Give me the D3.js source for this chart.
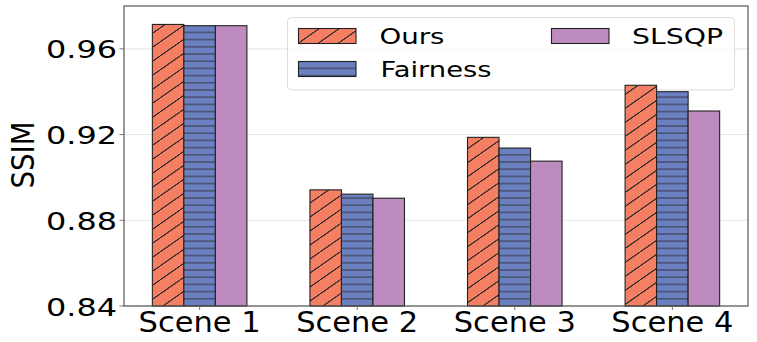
<!DOCTYPE html>
<html>
<head>
<meta charset="utf-8">
<script src="https://cdn.jsdelivr.net/npm/d3@7"></script>
<style>
    body { margin: 0; background: #fff; }
    text { font-family: "DejaVu Sans", sans-serif; fill: #000; }
</style>
</head>
<body>
<svg id="vis1"></svg>
<script>
// chart data
const scenes = ["Scene 1", "Scene 2", "Scene 3", "Scene 4"];
const methods = ["Ours", "Fairness", "SLSQP"];
const oursValues = [0.9714, 0.8942, 0.9187, 0.9430];
const fairnessValues = [0.9708, 0.8922, 0.9137, 0.9400];
const slsqpValues = [0.9708, 0.8903, 0.9076, 0.9310];
const yTicks = [0.84, 0.88, 0.92, 0.96];
const yLabel = "SSIM";

setupVis();


function setupVis() {

    const WIDTH = 757;
    const HEIGHT = 342;
    const LEFT = 124, RIGHT = 748, TOP = 6, BOTTOM = 306;
    const BAR_W = 0.2;
    const colors = ["#f47f62", "#6b80c0", "#bd8bbf"];
    const fills = ["url(#hatchDiag)", "url(#hatchHoriz)", colors[2]];
    const series = [oursValues, fairnessValues, slsqpValues];

    let svg = d3.select("#vis1")
        .attr("width", WIDTH)
        .attr("height", HEIGHT);

    const x = d3.scaleLinear().domain([-0.48, scenes.length - 1 + 0.48]).range([LEFT, RIGHT]);
    const y = d3.scaleLinear().domain([0.84, 0.98]).range([BOTTOM, TOP]);

    // hatch patterns
    const defs = svg.append("defs");
    let diag = defs.append("pattern")
        .attr("id", "hatchDiag")
        .attr("patternUnits", "userSpaceOnUse")
        .attr("width", 20).attr("height", 14);
    diag.append("rect").attr("width", 20).attr("height", 14).attr("fill", colors[0]);
    [[-20, 14, 0, 0], [0, 14, 20, 0], [20, 14, 40, 0], [-20, 28, 20, 0], [0, 14, 40, -14]]
        .forEach(function(l){
            diag.append("line")
                .attr("x1", l[0]).attr("y1", l[1]).attr("x2", l[2]).attr("y2", l[3])
                .attr("stroke", "#2a2a2a").attr("stroke-width", 0.9);
        });
    let horiz = defs.append("pattern")
        .attr("id", "hatchHoriz")
        .attr("patternUnits", "userSpaceOnUse")
        .attr("width", 10).attr("height", 7.2);
    horiz.append("rect").attr("width", 10).attr("height", 7.2).attr("fill", colors[1]);
    horiz.append("line")
        .attr("x1", 0).attr("x2", 10).attr("y1", 3.6).attr("y2", 3.6)
        .attr("stroke", "#2a2a2a").attr("stroke-width", 0.9);

    // grid
    svg.append("g").selectAll("line")
        .data(yTicks)
        .enter()
        .append("line")
        .attr("x1", LEFT).attr("x2", RIGHT)
        .attr("y1", d => y(d)).attr("y2", d => y(d))
        .attr("stroke", "#e6e6e6")
        .attr("stroke-width", 1);

    // legend box goes under the bars here, like the reference shows
    let legend = svg.append("g");
    legend.append("rect")
        .attr("x", 287.5).attr("y", 17.5)
        .attr("width", 447).attr("height", 72.5)
        .attr("rx", 4)
        .attr("fill", "rgba(255,255,255,0.8)")
        .attr("stroke", "#dcdcdc");

    // bars
    series.forEach(function(vals, m){
        svg.append("g").selectAll("rect")
            .data(vals)
            .enter()
            .append("rect")
            .attr("x", (d, i) => x(i - 0.3 + m * BAR_W))
            .attr("width", (d, i) => x(i - 0.3 + (m + 1) * BAR_W) - x(i - 0.3 + m * BAR_W))
            .attr("y", d => y(d))
            .attr("height", d => y(0.84) - y(d))
            .attr("fill", fills[m])
            .attr("stroke", "#222")
            .attr("stroke-width", 1.1);
    });

    // frame
    svg.append("rect")
        .attr("x", LEFT).attr("y", TOP)
        .attr("width", RIGHT - LEFT).attr("height", BOTTOM - TOP)
        .attr("fill", "none")
        .attr("stroke", "#555")
        .attr("stroke-width", 1.2);

    // y ticks
    let yAxis = svg.append("g");
    yAxis.selectAll("line")
        .data(yTicks)
        .enter()
        .append("line")
        .attr("x1", LEFT - 4.5).attr("x2", LEFT)
        .attr("y1", d => y(d)).attr("y2", d => y(d))
        .attr("stroke", "#777");
    yAxis.selectAll("text")
        .data(yTicks)
        .enter()
        .append("text")
        .attr("x", 117)
        .attr("y", d => y(d) + 9.5)
        .attr("text-anchor", "end")
        .attr("font-size", 25.5)
        .attr("textLength", 71)
        .attr("lengthAdjust", "spacingAndGlyphs")
        .text(d => d3.format(".2f")(d));

    // x ticks
    let xAxis = svg.append("g");
    xAxis.selectAll("line")
        .data(scenes)
        .enter()
        .append("line")
        .attr("x1", (d, i) => x(i)).attr("x2", (d, i) => x(i))
        .attr("y1", BOTTOM).attr("y2", BOTTOM + 4)
        .attr("stroke", "#777");
    xAxis.selectAll("text")
        .data(scenes)
        .enter()
        .append("text")
        .attr("x", (d, i) => x(i))
        .attr("y", 331.5)
        .attr("text-anchor", "middle")
        .attr("font-size", 28)
        .attr("textLength", 122)
        .attr("lengthAdjust", "spacingAndGlyphs")
        .text(d => d);

    // y label
    svg.append("text")
        .attr("transform", "translate(33.5,155) rotate(-90)")
        .attr("text-anchor", "middle")
        .attr("font-size", 32)
        .attr("textLength", 67)
        .attr("lengthAdjust", "spacingAndGlyphs")
        .text(yLabel);

    // legend entries
    const legendPos = [[298.5, 28.5, 379.5, 65], [298.5, 61.5, 380.5, 111], [551.5, 28.5, 632, 91]];
    methods.forEach(function(name, m){
        const p = legendPos[m];
        legend.append("rect")
            .attr("x", p[0]).attr("y", p[1])
            .attr("width", 57.5).attr("height", 15)
            .attr("fill", fills[m])
            .attr("stroke", "#222")
            .attr("stroke-width", 1.1);
        legend.append("text")
            .attr("x", p[2]).attr("y", p[1] + 15.5)
            .attr("font-size", 21.5)
            .attr("textLength", p[3])
            .attr("lengthAdjust", "spacingAndGlyphs")
            .text(name);
    });
}
</script>
</body>
</html>
